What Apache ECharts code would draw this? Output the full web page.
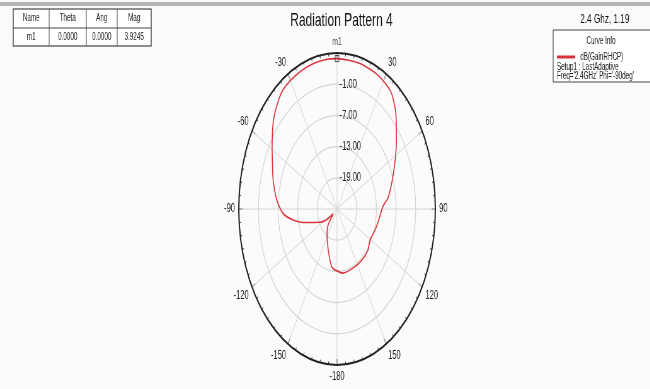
<!DOCTYPE html>
<html>
<head>
<meta charset="utf-8">
<script src="https://cdn.jsdelivr.net/npm/echarts@6/dist/echarts.min.js"></script>
<style>
html,body{margin:0;padding:0;background:#fbfbfb;overflow:hidden;width:650px;height:389px;}
#wrap{position:absolute;left:0;top:0;width:1032px;height:389px;transform:scaleX(0.63);transform-origin:0 0;}
#chart{width:1032px;height:389px;}
</style>
</head>
<body>
<div id="wrap"><div id="chart"></div></div>
<script>
// ---- data ----
var titleText = 'Radiation Pattern 4';
var angles = [-180, -172, -161, -146, -138, -130, -122, -116, -104, -99, -93, -85, -74, -63, -60, -48, -37, -27, -16, -6, 0, 14, 26, 36, 44, 54, 62, 72, 82, 88, 98, 109, 121, 130, 142, 157, 172, 180];
var gainRHCP = [-13.1, -13.7, -16.7, -19.5, -21.0, -23.5, -20.8, -19.2, -14.3, -11.4, -8.5, -6.6, -4.7, -2.8, -2.1, 1.0, 3.1, 3.6, 3.85, 3.95, 3.92, 3.85, 3.6, 2.9, 0.8, -2.6, -4.9, -7.3, -9.25, -11.0, -12.0, -12.7, -13.3, -12.7, -12.6, -12.65, -12.55, -13.1];
var markerName = 'm1';
var markerTheta = 0;
var markerMag = 3.9245;
var tableHeaders = ['Name', 'Theta', 'Ang', 'Mag'];
var tableRow = ['m1', '0.0000', '0.0000', '3.9245'];
var curveName = 'dB(GainRHCP)';
var curveSetup = 'Setup1 : LastAdaptive';
var curveFreq = "Freq='2.4GHz' Phi='-90deg'";
var topRightText = '2.4 Ghz, 1.19';
var radMin = -25, radMax = 5, radStep = 6;

// ---- build ----
var seriesData = angles.map(function (a, i) { return [gainRHCP[i], (a + 360) % 360]; });
var FONT = 'Liberation Sans, Arial, sans-serif';

var colX = [21, 78, 137, 186, 240];
var rowY = [9, 28, 46];
var tableEls = [];
tableEls.push({type: 'rect', shape: {x: colX[0], y: rowY[0], width: colX[4] - colX[0], height: rowY[2] - rowY[0]},
  style: {fill: '#fff', stroke: '#222', lineWidth: 1.2}});
for (var c = 1; c < 4; c++) {
  tableEls.push({type: 'line', shape: {x1: colX[c], y1: rowY[0], x2: colX[c], y2: rowY[2]}, style: {stroke: '#444', lineWidth: 1}});
}
tableEls.push({type: 'line', shape: {x1: colX[0], y1: rowY[1], x2: colX[4], y2: rowY[1]}, style: {stroke: '#444', lineWidth: 1}});
for (var c2 = 0; c2 < 4; c2++) {
  tableEls.push({type: 'text', x: (colX[c2] + colX[c2 + 1]) / 2, y: (rowY[0] + rowY[1]) / 2,
    style: {text: tableHeaders[c2], fontSize: 10, fontFamily: FONT, fill: '#222', align: 'center', verticalAlign: 'middle'}});
  tableEls.push({type: 'text', x: (colX[c2] + colX[c2 + 1]) / 2, y: (rowY[1] + rowY[2]) / 2,
    style: {text: tableRow[c2], fontSize: 10, fontFamily: FONT, fill: '#222', align: 'center', verticalAlign: 'middle'}});
}

var chart = echarts.init(document.getElementById('chart'), null, {renderer: 'canvas'});
chart.setOption({
  backgroundColor: '#fbfbfb',
  animation: false,
  title: {text: titleText, left: 537, top: 6, textAlign: 'center',
    textStyle: {fontSize: 19, fontWeight: 'normal', color: '#111', fontFamily: FONT}},
  polar: {center: [535, 209], radius: 156},
  angleAxis: {
    type: 'value', min: 0, max: 360, interval: 30, startAngle: 90, clockwise: true,
    axisLine: {show: true, lineStyle: {color: '#222', width: 2}},
    axisTick: {show: true, inside: true, length: 6, lineStyle: {color: '#222', width: 1.2}},
    minorTick: {show: true, splitNumber: 6, length: 3, lineStyle: {color: '#333', width: 1}},
    axisLabel: {show: true, margin: 6, fontSize: 12, color: '#222', fontFamily: FONT,
      formatter: function (v) { if (v === 0 || v === 360) return ''; return v >= 180 ? String(v - 360) : String(v); }},
    splitLine: {show: true, lineStyle: {color: '#d4d4d4', width: 1}}
  },
  radiusAxis: {
    type: 'value', min: radMin, max: radMax, interval: radStep,
    axisLine: {show: false}, axisTick: {show: false},
    axisLabel: {show: true, fontSize: 12, color: '#222', fontFamily: FONT, margin: -4, align: 'left',
      formatter: function (v) { if (v === radMin || v === radMax) return ''; return v.toFixed(2); }},
    splitLine: {show: true, lineStyle: {color: '#d4d4d4', width: 1.2}}
  },
  series: [
    {type: 'line', name: curveName, coordinateSystem: 'polar', data: seriesData, showSymbol: false,
      smooth: 0.25, lineStyle: {color: '#d8333b', width: 1.6}, z: 5},
    {type: 'scatter', coordinateSystem: 'polar', data: [[markerMag, markerTheta]], symbol: 'rect', symbolSize: [6, 6],
      itemStyle: {color: 'rgba(0,0,0,0)', borderColor: '#222', borderWidth: 1}, z: 6,
      label: {show: true, position: 'top', distance: 8, formatter: markerName, fontSize: 11, color: '#111', fontFamily: FONT}}
  ],
  graphic: [
    {type: 'rect', shape: {x: 0, y: 2, width: 1032, height: 4}, style: {fill: '#b5b5b5'}},
    {type: 'group', children: tableEls},
    {type: 'text', x: 960, y: 19, style: {text: topRightText, fontSize: 13, fontFamily: FONT, fill: '#111', align: 'center', verticalAlign: 'middle'}},
    {type: 'rect', shape: {x: 878, y: 30, width: 160, height: 52}, style: {fill: '#fff', stroke: '#444', lineWidth: 1.2}},
    {type: 'text', x: 954, y: 41, style: {text: 'Curve Info', fontSize: 10, fontFamily: FONT, fill: '#222', align: 'center', verticalAlign: 'middle'}},
    {type: 'line', shape: {x1: 884, y1: 57, x2: 913, y2: 57}, style: {stroke: '#d8333b', lineWidth: 3}},
    {type: 'text', x: 921, y: 57, style: {text: curveName, fontSize: 10, fontFamily: FONT, fill: '#222', verticalAlign: 'middle'}},
    {type: 'text', x: 884, y: 67, style: {text: curveSetup, fontSize: 10, fontFamily: FONT, fill: '#222', verticalAlign: 'middle'}},
    {type: 'text', x: 884, y: 76, style: {text: curveFreq, fontSize: 10, fontFamily: FONT, fill: '#222', verticalAlign: 'middle'}}
  ]
});
</script>
</body>
</html>
